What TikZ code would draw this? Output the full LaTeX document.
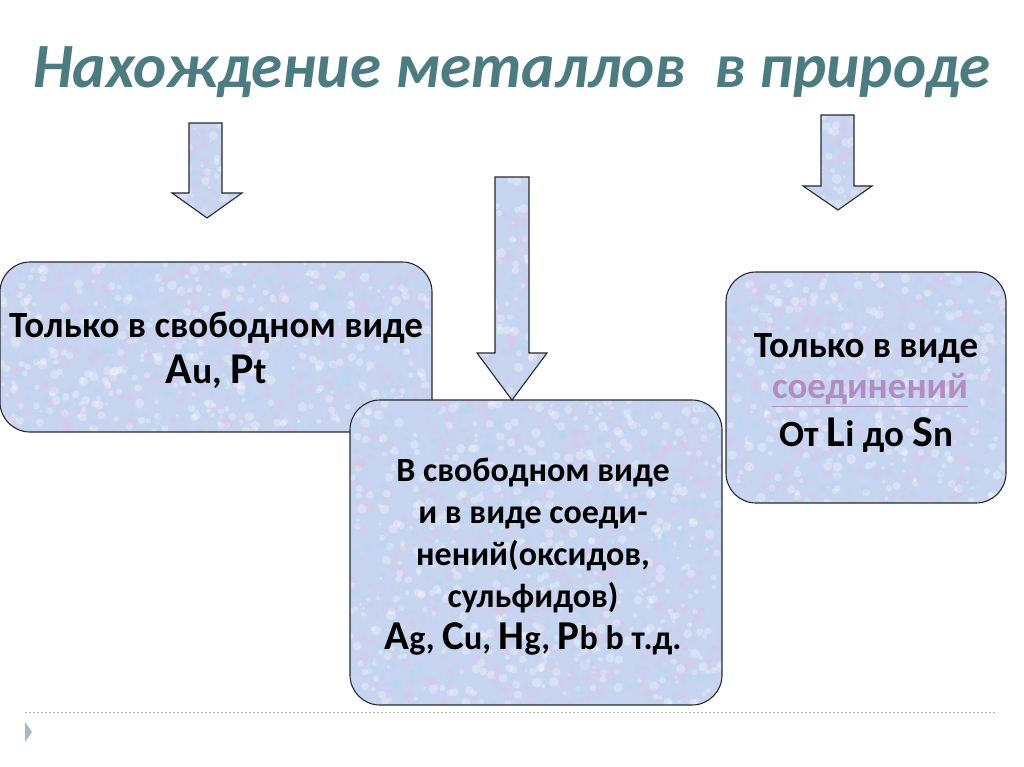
\documentclass[tikz,border=0pt]{standalone}
\usepackage{fontspec}
\setmainfont{Carlito}
\definecolor{boxfill}{RGB}{200,213,240}
\definecolor{boxline}{RGB}{40,40,50}
\definecolor{titlecol}{RGB}{76,124,130}
\definecolor{linkcol}{RGB}{178,140,195}
\definecolor{dashcol}{RGB}{175,180,185}
\definecolor{markcol}{RGB}{165,184,200}
\definecolor{specpink}{RGB}{228,195,232}
\definecolor{speccyan}{RGB}{178,218,240}
\tikzset{
  panel/.style={draw=boxline, line width=1.1pt, rounded corners=30pt},
  blockarrow/.style={draw=boxline, line width=1.1pt},
  bodytext/.style={font=\fontsize{37}{44}\selectfont\bfseries, align=center, text=black, inner sep=0pt},
  midtext/.style={font=\fontsize{34}{42}\selectfont\bfseries, align=center, text=black, inner sep=0pt},
}
\newcommand{\capbig}[1]{{\fontsize{44}{44}\selectfont #1}}
\newcommand{\capmid}[1]{{\fontsize{41}{42}\selectfont #1}}
% speckled texture in the rectangle (#1,#2)-(#3,#4), n dots = #5
\newcommand{\speckle}[5]{%
  \fill[boxfill] (#1,#2) rectangle (#3,#4);
  \foreach \k in {1,...,#5} {
    \pgfmathsetmacro{\rx}{#1+rnd*(#3-#1)}
    \pgfmathsetmacro{\ry}{#2+rnd*(#4-#2)}
    \pgfmathsetmacro{\rr}{1.5+rnd*3.5}
    \pgfmathtruncatemacro{\rc}{3*rnd}
    \ifcase\rc
      \fill[specpink, opacity=0.35] (\rx,\ry) circle (\rr);
    \or
      \fill[speccyan, opacity=0.35] (\rx,\ry) circle (\rr);
    \else
      \fill[white, opacity=0.3] (\rx,\ry) circle (\rr);
    \fi
  }%
}
\begin{document}
\begin{tikzpicture}[x=1pt, y=-1pt]
\pgfmathsetseed{7}
\useasboundingbox (0,0) rectangle (1024,767);
\fill[white] (0,0) rectangle (1024,767);
% title
\node[font=\fontsize{63}{66}\selectfont\bfseries\itshape, text=titlecol, inner sep=0pt] (title) at (512,72) {Нахождение металлов\ \ в природе};
% left box
\begin{scope}
\clip[rounded corners=30pt] (0,262) rectangle (432,432);
\speckle{0}{262}{432}{432}{1100}
\end{scope}
\draw[panel] (0,262) rectangle (432,432);
\node[bodytext] (leftA) at (216,328) {Только в свободном виде};
\node[bodytext] (leftB) at (216,372) {\capbig{A}u, \capbig{P}t};
% right box
\begin{scope}
\clip[rounded corners=30pt] (726,272) rectangle (1006,503);
\speckle{726}{272}{1006}{503}{950}
\end{scope}
\draw[panel] (726,272) rectangle (1006,503);
\node[bodytext] (rightA) at (866,348) {Только в виде};
\node[bodytext, text=linkcol] (rightB) at (870,390) {\underline{соединений}};
\node[bodytext] (rightC) at (866,435) {От \capbig{L}i до \capbig{S}n};
% left arrow
\begin{scope}
\clip (189,123) -- (222,123) -- (222,193) -- (242,193) -- (207,218) -- (172,193) -- (189,193) -- cycle;
\speckle{172}{123}{242}{218}{110}
\end{scope}
\draw[blockarrow] (189,123) -- (222,123) -- (222,193) -- (242,193) -- (207,218) -- (172,193) -- (189,193) -- cycle;
% right arrow
\begin{scope}
\clip (821,115) -- (854,115) -- (854,186) -- (872,186) -- (838,210) -- (803,186) -- (821,186) -- cycle;
\speckle{803}{115}{872}{210}{110}
\end{scope}
\draw[blockarrow] (821,115) -- (854,115) -- (854,186) -- (872,186) -- (838,210) -- (803,186) -- (821,186) -- cycle;
% middle box
\begin{scope}
\clip[rounded corners=30pt] (350,400) rectangle (722,705);
\speckle{350}{400}{722}{705}{1700}
\end{scope}
\draw[panel] (350,400) rectangle (722,705);
\node[midtext] (mid) at (533,557) {В свободном виде\\ и в виде соеди-\\нений(оксидов,\\ сульфидов)\\ \capmid{A}g, \capmid{C}u, \capmid{H}g, \capmid{P}b b т.д.};
% middle arrow
\begin{scope}
\clip (495,177) -- (529,177) -- (529,353) -- (547,353) -- (512,400) -- (477,353) -- (495,353) -- cycle;
\speckle{477}{177}{547}{400}{220}
\end{scope}
\draw[blockarrow] (495,177) -- (529,177) -- (529,353) -- (547,353) -- (512,400) -- (477,353) -- (495,353) -- cycle;
% footer
\draw[dashcol, line width=1pt, dash pattern=on 2pt off 2pt] (25,712) -- (997,712);
\fill[markcol] (25,722) -- (32,732) -- (25,742) -- cycle;
\end{tikzpicture}
\end{document}
